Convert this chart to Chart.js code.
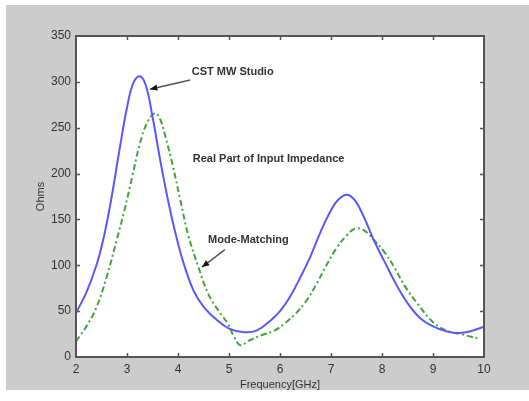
<!DOCTYPE html>
<html>
<head>
<meta charset="utf-8">
<script src="https://cdn.jsdelivr.net/npm/chart.js@4.4.1/dist/chart.umd.min.js"></script>
<style>
  html, body { margin: 0; padding: 0; background: #ffffff; }
  #wrap { width: 529px; height: 401px; }
</style>
</head>
<body>
<div id="wrap"><canvas id="zin" width="529" height="401"></canvas></div>
<script>
// ==================== Data ====================

// CST MW Studio - real part of input impedance
const cstFreq = [2, 2.2, 2.4, 2.55, 2.7, 2.85, 3.0, 3.12, 3.25, 3.37, 3.5, 3.65, 3.8, 3.95, 4.1,
    4.3, 4.5, 4.75, 5.0, 5.3, 5.55, 5.8, 6.0, 6.2, 6.4, 6.6, 6.8, 7.0, 7.15, 7.32, 7.48, 7.65,
    7.85, 8.05, 8.3, 8.55, 8.8, 9.1, 9.4, 9.65, 10];
const cstOhms = [48, 70, 100, 132, 175, 225, 272, 298, 306, 296, 262, 215, 172, 135, 104,
    73, 55, 41, 31, 27, 29, 39, 50, 66, 87, 110, 137, 160, 172, 177, 170, 152,
    126, 104, 77, 55, 40, 31, 26.5, 27, 33];

// Mode-Matching
const mmFreq = [2, 2.2, 2.4, 2.6, 2.8, 2.95, 3.1, 3.25, 3.4, 3.55, 3.65, 3.75, 3.9, 4.05, 4.2,
    4.4, 4.6, 4.8, 4.98, 5.1, 5.22, 5.4, 5.65, 5.9, 6.1, 6.3, 6.5, 6.7, 6.9, 7.1, 7.3,
    7.48, 7.65, 7.85, 8.05, 8.25, 8.45, 8.7, 9.0, 9.3, 9.55, 9.75, 9.9];
const mmOhms = [17, 33, 54, 87, 128, 160, 196, 232, 256, 266, 259, 241, 208, 170, 133,
    98, 68, 50, 36, 22, 13, 18, 24, 29, 37, 47, 60, 78, 99, 118, 132,
    140, 138, 127, 114, 97, 77, 58, 38, 28, 25, 22, 20];

const xTicks = [2, 3, 4, 5, 6, 7, 8, 9, 10];
const yTicks = [0, 50, 100, 150, 200, 250, 300, 350];

// text labels with arrows, in data units (GHz, Ohms)
const notes = [
    { text: 'CST MW Studio', x: 4.27, y: 311, arrow: [4.24, 302, 3.45, 292] },
    { text: 'Real Part of Input Impedance', x: 4.29, y: 216, arrow: null },
    { text: 'Mode-Matching', x: 4.59, y: 128, arrow: [4.92, 117, 4.47, 98] }
];

const FONT = '"Liberation Sans", Arial, sans-serif';
const INK = '#333333';
const AXIS = '#555555';

function toPoints(xs, ys) {
    return xs.map((x, i) => ({ x: x, y: ys[i] }));
}

// ==================== Plugins ====================

// gray figure background + white plot box
const figureBg = {
    id: 'figureBg',
    beforeDraw(chart) {
        const { ctx, chartArea: a } = chart;
        ctx.save();
        ctx.fillStyle = '#ffffff';
        ctx.fillRect(0, 0, chart.width, chart.height);
        ctx.fillStyle = '#cccccc';
        ctx.fillRect(6, 5, chart.width - 6, 385);
        ctx.fillStyle = '#ffffff';
        ctx.fillRect(a.left, a.top, a.right - a.left, a.bottom - a.top);
        ctx.restore();
    }
};

// box, inward ticks on all four sides, text notes and arrows
const frameAndNotes = {
    id: 'frameAndNotes',
    afterDraw(chart) {
        const { ctx, chartArea: a } = chart;
        const xs = chart.scales.x;
        const ys = chart.scales.y;
        const tl = 4;
        ctx.save();
        ctx.strokeStyle = AXIS;
        ctx.lineWidth = 2;
        ctx.strokeRect(a.left, a.top, a.right - a.left, a.bottom - a.top);

        ctx.lineWidth = 1.5;
        ctx.beginPath();
        xTicks.slice(1, -1).forEach(v => {
            const px = Math.round(xs.getPixelForValue(v)) + 0.5;
            ctx.moveTo(px, a.bottom); ctx.lineTo(px, a.bottom - tl);
            ctx.moveTo(px, a.top); ctx.lineTo(px, a.top + tl);
        });
        yTicks.slice(1, -1).forEach(v => {
            const py = Math.round(ys.getPixelForValue(v)) + 0.5;
            ctx.moveTo(a.left, py); ctx.lineTo(a.left + tl, py);
            ctx.moveTo(a.right, py); ctx.lineTo(a.right - tl, py);
        });
        ctx.stroke();

        // notes
        ctx.fillStyle = INK;
        ctx.font = 'bold 11px ' + FONT;
        ctx.textBaseline = 'middle';
        ctx.textAlign = 'left';
        notes.forEach(n => {
            ctx.fillText(n.text, xs.getPixelForValue(n.x), ys.getPixelForValue(n.y));
            if (!n.arrow) return;
            const x1 = xs.getPixelForValue(n.arrow[0]);
            const y1 = ys.getPixelForValue(n.arrow[1]);
            const x2 = xs.getPixelForValue(n.arrow[2]);
            const y2 = ys.getPixelForValue(n.arrow[3]);
            ctx.strokeStyle = '#555555';
            ctx.lineWidth = 1.5;
            ctx.beginPath();
            ctx.moveTo(x1, y1);
            ctx.lineTo(x2, y2);
            ctx.stroke();
            // arrow head
            const ang = Math.atan2(y2 - y1, x2 - x1);
            const len = 8, half = 0.4;
            ctx.fillStyle = '#111111';
            ctx.beginPath();
            ctx.moveTo(x2, y2);
            ctx.lineTo(x2 - len * Math.cos(ang - half), y2 - len * Math.sin(ang - half));
            ctx.lineTo(x2 - len * Math.cos(ang + half), y2 - len * Math.sin(ang + half));
            ctx.closePath();
            ctx.fill();
            ctx.fillStyle = INK;
        });
        ctx.restore();
    }
};

// ==================== Chart ====================

const ctx = document.getElementById('zin');

new Chart(ctx, {
    type: 'line',
    data: {
        datasets: [
            {
                label: 'CST MW Studio',
                data: toPoints(cstFreq, cstOhms),
                borderColor: 'rgb(88, 88, 255)',
                borderWidth: 2,
                pointRadius: 0,
                tension: 0.4,
                fill: false
            },
            {
                label: 'Mode-Matching',
                data: toPoints(mmFreq, mmOhms),
                borderColor: 'rgb(60, 165, 60)',
                borderWidth: 2,
                borderDash: [6, 3, 2, 3],
                pointRadius: 0,
                tension: 0.4,
                fill: false
            }
        ]
    },
    options: {
        responsive: false,
        animation: false,
        layout: { padding: { left: 0, top: 36, right: 45, bottom: 0 } },
        plugins: {
            legend: { display: false },
            tooltip: { enabled: false }
        },
        scales: {
            x: {
                type: 'linear',
                min: 2,
                max: 10,
                afterFit(scale) { scale.height = 44; },
                afterBuildTicks(scale) { scale.ticks = xTicks.map(v => ({ value: v })); },
                grid: { drawOnChartArea: false, drawTicks: false },
                border: { display: true, color: AXIS, width: 2 },
                ticks: { color: INK, padding: 5, font: { family: FONT, size: 12 } },
                title: {
                    display: true,
                    text: 'Frequency[GHz]',
                    color: INK,
                    padding: { top: 0, bottom: 9 },
                    font: { family: FONT, size: 11 }
                }
            },
            y: {
                min: 0,
                max: 350,
                afterFit(scale) { scale.width = 76; },
                afterBuildTicks(scale) { scale.ticks = yTicks.map(v => ({ value: v })); },
                grid: { drawOnChartArea: false, drawTicks: false },
                border: { display: true, color: AXIS, width: 2 },
                ticks: { color: INK, padding: 5, font: { family: FONT, size: 12 } },
                title: {
                    display: true,
                    text: 'Ohms',
                    color: INK,
                    padding: { top: 34, bottom: 0 },
                    font: { family: FONT, size: 11 }
                }
            }
        }
    },
    plugins: [figureBg, frameAndNotes]
});
</script>
</body>
</html>
